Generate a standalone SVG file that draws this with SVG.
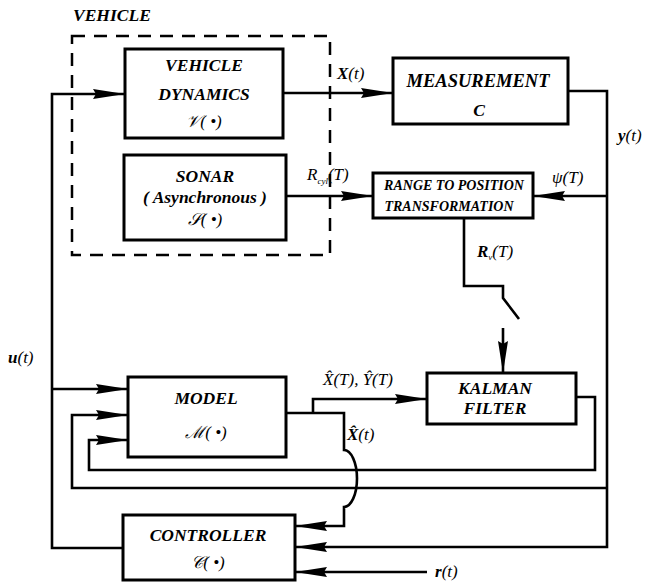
<svg xmlns="http://www.w3.org/2000/svg" width="651" height="585" viewBox="0 0 651 585">
<style>
.box{fill:none;stroke:#000;stroke-width:3}
.ln{fill:none;stroke:#000;stroke-width:2.6;stroke-linejoin:miter}
.arr{marker-end:url(#ah)}
.t{font-weight:bold;font-style:italic;font-size:17.5px;fill:#000;text-anchor:middle}
.s{font-style:italic;font-size:17px;fill:#000}
.b{font-weight:bold}
.sm{font-weight:bold;font-style:italic;font-size:14px;fill:#000;text-anchor:middle}
</style>
<defs>
<marker id="ah" markerUnits="userSpaceOnUse" viewBox="0 0 32 11" markerWidth="32" markerHeight="11" refX="32" refY="5.5" orient="auto">
<path d="M0,0.5 L32,5.5 L0,10.5 L3,5.5 z" fill="#000"/>
</marker>
</defs>
<rect width="651" height="585" fill="#fff"/>

<g font-family="Liberation Serif, serif">
<g id="vehicle">
<text class="t" x="73" y="21" style="text-anchor:start">VEHICLE</text>
<rect x="72" y="36" width="258" height="219" fill="none" stroke="#000" stroke-width="2.5" stroke-dasharray="13,9"/>
</g>

<g id="vehicle-dynamics">
<rect class="box" x="125" y="49" width="158" height="89"/>
<text class="t" x="204" y="71">VEHICLE</text>
<text class="t" x="204" y="100">DYNAMICS</text>
<text class="s" x="204" y="127" text-anchor="middle">𝒱( •)</text>
</g>

<g id="sonar">
<rect class="box" x="124" y="155" width="162" height="85"/>
<text class="t" x="205" y="182">SONAR</text>
<text class="t" x="205" y="203">( Asynchronous )</text>
<text class="s" x="205" y="225" text-anchor="middle">𝒮( •)</text>
</g>

<g id="measurement">
<rect class="box" x="393" y="58" width="175" height="66"/>
<text class="t" x="478" y="87" style="font-size:18.5px">MEASUREMENT</text>
<text class="t" x="479" y="116">C</text>
</g>

<g id="range">
<rect class="box" x="373" y="173" width="160" height="45"/>
<text class="sm" x="454" y="190">RANGE TO POSITION</text>
<text class="sm" x="449" y="211">TRANSFORMATION</text>
</g>

<g id="kalman">
<rect class="box" x="427" y="373" width="149" height="51"/>
<text class="t" x="495" y="394">KALMAN</text>
<text class="t" x="495" y="414">FILTER</text>
</g>

<g id="model">
<rect class="box" x="128" y="377" width="158" height="80"/>
<text class="t" x="206" y="404">MODEL</text>
<text class="s" x="206" y="438" text-anchor="middle">ℳ( •)</text>
</g>

<g id="controller">
<rect class="box" x="123" y="515" width="172" height="65"/>
<text class="t" x="208" y="541">CONTROLLER</text>
<text class="s" x="208" y="568" text-anchor="middle">𝒞( •)</text>
</g>

<g id="connectors">
<path class="ln arr" d="M123,548 H52 V94 H125"/>
<path class="ln arr" d="M52,389 H128"/>
<path class="ln arr" d="M283,93 H393"/>
<path class="ln arr" d="M568,91 H607 V547 H295"/>
<path class="ln arr" d="M607,196 H533"/>
<path class="ln arr" d="M607,488 H72 V415 H128"/>
<path class="ln arr" d="M576,397 H595 V470 H89 V440 H128"/>
<path class="ln arr" d="M286,196 H373"/>
<path class="ln" d="M464,218 V286 H503 V298 L519,319"/>
<path class="ln arr" d="M503,328 V373"/>
<path class="ln arr" d="M286,413 H344 V450 A13,28.5 0 0 1 344,507 V526 H295"/>
<path class="ln arr" d="M313,413 V399 H427"/>
<path class="ln arr" d="M427,572 H295"/>
</g>

<g id="labels">
<text class="s" x="337" y="79"><tspan class="b">X</tspan>(<tspan>t</tspan>)</text>
<text class="s" x="618" y="141"><tspan class="b">y</tspan>(t)</text>
<text class="s" x="307" y="180">R<tspan font-size="9" dy="4">cyl</tspan><tspan dy="-4">(T)</tspan></text>
<text class="s" x="552" y="183">ψ(T)</text>
<text class="s" x="477" y="257"><tspan class="b">R</tspan><tspan font-size="9" dy="3">v</tspan><tspan dy="-3">(T)</tspan></text>
<text class="s" x="8" y="363"><tspan class="b">u</tspan>(t)</text>
<text class="s" x="323" y="385">X̂(T), Ŷ(T)</text>
<text class="s" x="347" y="440"><tspan class="b">X̂</tspan>(t)</text>
<text class="s" x="435" y="577"><tspan class="b">r</tspan>(t)</text>
</g>
</g>
</svg>
